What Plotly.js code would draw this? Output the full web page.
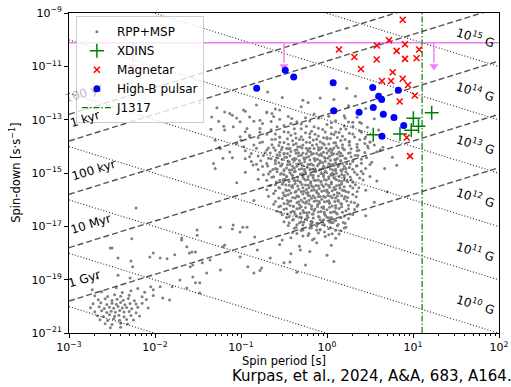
<!DOCTYPE html>
<html>
<head>
<meta charset="utf-8">
<script src="https://cdn.plot.ly/plotly-3.0.1.min.js"></script>
<style>html,body{margin:0;padding:0;background:#fff;}#chart{width:511px;height:387px;}</style>
</head>
<body>
<div id="chart"></div>
<script>
// ---------------- DATA ----------------
// RPP+MSP population as [log10 P(s), log10 Pdot(s/s)]
const rppYoung = [
 [-1.48,-12.38],[-1.19,-12.71],[-1.34,-12.90],[-1.26,-13.06],[-1.13,-12.77],[-0.97,-12.64],[-0.90,-12.90],
 [-0.78,-13.02],[-0.70,-12.71],[-0.64,-12.77],[-0.55,-12.64],[-0.41,-12.96],[-1.01,-13.08],[-1.09,-13.27],
 [-1.19,-13.39],[-0.93,-13.33],[-0.78,-13.33],[-0.90,-13.58],[-1.01,-13.64],[-1.05,-13.89],[-1.24,-14.08],
 [-1.13,-14.21],[-0.97,-14.02],[-1.30,-13.77],[-1.21,-14.45],[-1.32,-14.64],[-0.90,-14.39],[-0.86,-14.70],
 [-0.69,-11.96],[-0.28,-12.27],[-0.52,-12.17],[0.08,-12.24],[0.33,-12.12],[-0.08,-12.19],[0.23,-11.82],
 [-0.82,-12.45],[-0.22,-12.36],[0.25,-12.48]
];
const rppCore = [
 [-1.28,-12.55],[-0.95,-12.68],[-0.6,-12.6],[-0.3,-12.52],[0.05,-12.66],[0.45,-12.58],
 [-1.1,-12.83],[-0.7,-12.74],[-0.45,-12.88],[-0.15,-12.79],[0.2,-12.85],
 [-1.05,-12.94],[-0.85,-13.06],[-0.55,-12.98],[-0.35,-13.08],[-0.1,-12.95],[0.1,-13.04],[0.3,-13.1],[0.55,-12.97],
 [-1.2,-13.25],[-0.75,-13.14],[-0.5,-13.22],[-0.3,-13.16],[-0.15,-13.27],[0.0,-13.18],[0.2,-13.24],[0.4,-13.13],
 [-1.35,-13.36],[-0.95,-13.45],[-0.65,-13.38],[-0.45,-13.47],[-0.3,-13.34],[-0.18,-13.43],[-0.05,-13.37],[0.1,-13.46],[0.22,-13.35],[0.38,-13.42],[0.6,-13.39],
 [-0.9,-13.63],[-0.7,-13.55],[-0.55,-13.66],[-0.42,-13.58],[-0.3,-13.64],[-0.2,-13.53],[-0.1,-13.61],[0.0,-13.67],[0.08,-13.56],[0.18,-13.62],[0.3,-13.54],[0.45,-13.65],
 [-1.0,-13.77],[-0.75,-13.84],[-0.6,-13.73],[-0.5,-13.86],[-0.4,-13.79],[-0.32,-13.74],[-0.24,-13.85],[-0.16,-13.76],[-0.08,-13.83],[0.0,-13.72],[0.08,-13.87],[0.16,-13.78],[0.26,-13.81],[0.38,-13.75],[0.5,-13.84],
 [-1.25,-14.03],[-0.85,-13.95],[-0.68,-14.06],[-0.56,-13.97],[-0.47,-14.08],[-0.39,-13.94],[-0.31,-14.02],[-0.24,-14.07],[-0.17,-13.96],[-0.1,-14.04],[-0.03,-13.93],[0.04,-14.09],[0.11,-13.98],[0.18,-14.05],[0.26,-13.96],[0.35,-14.03],[0.47,-13.99],
 [-0.95,-14.17],[-0.72,-14.24],[-0.6,-14.15],[-0.5,-14.26],[-0.42,-14.19],[-0.35,-14.13],[-0.28,-14.25],[-0.22,-14.18],[-0.16,-14.27],[-0.1,-14.14],[-0.04,-14.22],[0.02,-14.16],[0.08,-14.28],[0.14,-14.21],[0.2,-14.13],[0.27,-14.24],[0.35,-14.17],[0.44,-14.23],[0.58,-14.2],
 [-1.1,-14.43],[-0.8,-14.36],[-0.65,-14.47],[-0.55,-14.34],[-0.47,-14.41],[-0.4,-14.48],[-0.33,-14.35],[-0.27,-14.44],[-0.21,-14.38],[-0.15,-14.46],[-0.09,-14.33],[-0.03,-14.42],[0.03,-14.37],[0.09,-14.49],[0.15,-14.36],[0.21,-14.45],[0.28,-14.39],[0.36,-14.34],[0.46,-14.43],
 [-0.88,-14.57],[-0.7,-14.64],[-0.6,-14.55],[-0.52,-14.66],[-0.45,-14.59],[-0.38,-14.53],[-0.32,-14.65],[-0.26,-14.58],[-0.2,-14.67],[-0.14,-14.54],[-0.08,-14.62],[-0.02,-14.56],[0.04,-14.68],[0.1,-14.61],[0.16,-14.53],[0.23,-14.64],[0.3,-14.57],[0.4,-14.63],[0.52,-14.6],
 [-1.3,-14.83],[-0.75,-14.76],[-0.63,-14.87],[-0.54,-14.74],[-0.47,-14.81],[-0.41,-14.88],[-0.35,-14.75],[-0.29,-14.84],[-0.23,-14.78],[-0.17,-14.86],[-0.11,-14.73],[-0.05,-14.82],[0.01,-14.77],[0.07,-14.89],[0.13,-14.76],[0.19,-14.85],[0.26,-14.79],[0.34,-14.74],[0.45,-14.83],
 [-0.95,-14.97],[-0.68,-15.04],[-0.58,-14.95],[-0.5,-15.06],[-0.43,-14.99],[-0.37,-14.93],[-0.31,-15.05],[-0.25,-14.98],[-0.19,-15.07],[-0.13,-14.94],[-0.07,-15.02],[-0.01,-14.96],[0.05,-15.08],[0.11,-15.01],[0.17,-14.93],[0.24,-15.04],[0.32,-14.97],[0.42,-15.03],
 [-0.8,-15.23],[-0.64,-15.16],[-0.55,-15.27],[-0.47,-15.14],[-0.4,-15.21],[-0.34,-15.28],[-0.28,-15.15],[-0.22,-15.24],[-0.16,-15.18],[-0.1,-15.26],[-0.04,-15.13],[0.02,-15.22],[0.08,-15.17],[0.14,-15.29],[0.2,-15.16],[0.28,-15.25],[0.38,-15.19],
 [-1.05,-15.37],[-0.6,-15.44],[-0.51,-15.35],[-0.44,-15.46],[-0.37,-15.39],[-0.31,-15.33],[-0.25,-15.45],[-0.19,-15.38],[-0.13,-15.47],[-0.07,-15.34],[-0.01,-15.42],[0.05,-15.36],[0.11,-15.48],[0.17,-15.41],[0.24,-15.33],[0.33,-15.44],
 [-0.7,-15.63],[-0.55,-15.56],[-0.47,-15.67],[-0.4,-15.54],[-0.33,-15.61],[-0.27,-15.68],[-0.21,-15.55],[-0.15,-15.64],[-0.09,-15.58],[-0.03,-15.66],[0.03,-15.53],[0.09,-15.62],[0.15,-15.57],[0.22,-15.69],[0.3,-15.56],[0.45,-15.65],
 [-0.62,-15.77],[-0.5,-15.84],[-0.42,-15.75],[-0.35,-15.86],[-0.28,-15.79],[-0.22,-15.73],[-0.16,-15.85],[-0.1,-15.78],[-0.04,-15.87],[0.02,-15.74],[0.08,-15.82],[0.14,-15.76],[0.21,-15.88],[0.3,-15.81],
 [-0.85,-16.03],[-0.52,-15.96],[-0.44,-16.07],[-0.37,-15.94],[-0.3,-16.01],[-0.24,-16.08],[-0.18,-15.95],[-0.12,-16.04],[-0.06,-15.98],[0.0,-16.06],[0.06,-15.93],[0.13,-16.02],[0.2,-15.97],[0.28,-16.09],
 [-0.62,-16.17],[-0.54,-16.24],[-0.46,-16.15],[-0.39,-16.26],[-0.32,-16.19],[-0.25,-16.13],[-0.18,-16.25],[-0.11,-16.18],[-0.04,-16.27],[0.03,-16.14],[0.1,-16.22],[0.17,-16.16],[0.25,-16.21],[0.36,-16.19],
 [-0.58,-16.43],[-0.5,-16.36],[-0.42,-16.47],[-0.35,-16.34],[-0.28,-16.41],[-0.21,-16.48],[-0.14,-16.35],[-0.07,-16.44],[0.0,-16.38],[0.07,-16.46],[0.14,-16.33],[0.22,-16.42],[0.32,-16.37],
 [-0.52,-16.57],[-0.44,-16.64],[-0.37,-16.55],[-0.3,-16.66],[-0.23,-16.59],[-0.16,-16.53],[-0.09,-16.65],[-0.02,-16.58],[0.05,-16.67],[0.12,-16.54],[0.2,-16.62],[0.3,-16.56],
 [-0.5,-16.83],[-0.4,-16.76],[-0.32,-16.87],[-0.25,-16.74],[-0.18,-16.81],[-0.11,-16.88],[-0.04,-16.75],[0.03,-16.84],[0.1,-16.78],[0.19,-16.86],
 [-0.45,-16.97],[-0.36,-17.04],[-0.28,-16.95],[-0.2,-17.06],[-0.12,-16.99],[-0.04,-16.93],[0.04,-17.05],[0.12,-16.98],[0.22,-17.03],
 [-0.4,-17.23],[-0.3,-17.16],[-0.21,-17.27],[-0.12,-17.14],[-0.03,-17.21],[0.06,-17.28],[0.16,-17.17],
 [-0.42,-17.43],[-0.28,-17.36],[-0.15,-17.47],[-0.02,-17.38],[0.1,-17.45],
 [-0.55,-17.68],[-0.32,-17.75],[-0.12,-17.62],[0.05,-17.71],
 [-0.42,-18.03],[-0.2,-17.94],[0.0,-18.08],
 [-0.5,-18.37],[-0.25,-18.45],[0.08,-18.32],
 [-0.78,-18.66],[-0.35,-18.72]
];
const rppCoreDense = [
 [-0.62,-12.88],[-0.25,-12.93],[0.02,-12.87],[0.35,-12.91],
 [-0.65,-13.07],[-0.42,-13.14],[-0.2,-13.05],[0.05,-13.12],[0.25,-13.09],
 [-0.58,-13.27],[-0.38,-13.34],[-0.24,-13.25],[-0.1,-13.32],[0.05,-13.29],[0.16,-13.35],[0.3,-13.26],
 [-0.78,-13.47],[-0.6,-13.54],[-0.5,-13.45],[-0.37,-13.52],[-0.25,-13.49],[-0.14,-13.55],[-0.02,-13.46],[0.05,-13.53],[0.14,-13.48],[0.26,-13.51],[0.4,-13.47],
 [-0.8,-13.67],[-0.64,-13.74],[-0.55,-13.65],[-0.46,-13.72],[-0.36,-13.69],[-0.28,-13.75],[-0.2,-13.66],[-0.12,-13.73],[-0.04,-13.68],[0.04,-13.71],[0.12,-13.67],[0.21,-13.74],[0.32,-13.65],[0.44,-13.72],
 [-0.78,-13.87],[-0.64,-13.94],[-0.55,-13.85],[-0.45,-13.92],[-0.36,-13.89],[-0.28,-13.95],[-0.2,-13.86],[-0.12,-13.93],[-0.05,-13.88],[0.02,-13.91],[0.1,-13.87],[0.18,-13.94],[0.26,-13.85],[0.35,-13.92],[0.44,-13.89],[0.55,-13.95],
 [-0.82,-14.07],[-0.7,-14.14],[-0.62,-14.05],[-0.53,-14.12],[-0.45,-14.09],[-0.37,-14.15],[-0.29,-14.06],[-0.22,-14.13],[-0.15,-14.08],[-0.08,-14.11],[-0.01,-14.07],[0.06,-14.14],[0.13,-14.05],[0.2,-14.12],[0.28,-14.09],[0.37,-14.15],[0.48,-14.06],[0.62,-14.13],
 [-0.88,-14.27],[-0.74,-14.34],[-0.66,-14.25],[-0.58,-14.32],[-0.5,-14.29],[-0.43,-14.35],[-0.36,-14.26],[-0.3,-14.33],[-0.24,-14.28],[-0.18,-14.31],[-0.12,-14.27],[-0.06,-14.34],[0.0,-14.25],[0.06,-14.32],[0.12,-14.29],[0.18,-14.35],[0.25,-14.26],[0.33,-14.33],
 [-0.95,-14.47],[-0.77,-14.54],[-0.68,-14.45],[-0.6,-14.52],[-0.52,-14.49],[-0.45,-14.55],[-0.38,-14.46],[-0.32,-14.53],[-0.26,-14.48],[-0.2,-14.51],[-0.14,-14.47],[-0.08,-14.54],[-0.02,-14.45],[0.04,-14.52],[0.1,-14.49],[0.16,-14.55],[0.22,-14.46],[0.3,-14.53],[0.4,-14.48],
 [-0.82,-14.67],[-0.69,-14.74],[-0.6,-14.65],[-0.53,-14.72],[-0.46,-14.69],[-0.4,-14.75],[-0.34,-14.66],[-0.28,-14.73],[-0.22,-14.68],[-0.16,-14.71],[-0.1,-14.67],[-0.04,-14.74],[0.02,-14.65],[0.08,-14.72],[0.14,-14.69],[0.2,-14.75],[0.27,-14.66],[0.35,-14.73],[0.5,-14.68],
 [-0.8,-14.87],[-0.66,-14.94],[-0.58,-14.85],[-0.5,-14.92],[-0.44,-14.89],[-0.38,-14.95],[-0.32,-14.86],[-0.26,-14.93],[-0.2,-14.88],[-0.14,-14.91],[-0.08,-14.87],[-0.02,-14.94],[0.04,-14.85],[0.1,-14.92],[0.16,-14.89],[0.22,-14.95],[0.3,-14.86],[0.4,-14.93],
 [-0.74,-15.07],[-0.62,-15.14],[-0.54,-15.05],[-0.47,-15.12],[-0.4,-15.09],[-0.34,-15.15],[-0.28,-15.06],[-0.22,-15.13],[-0.16,-15.08],[-0.1,-15.11],[-0.04,-15.07],[0.02,-15.14],[0.08,-15.05],[0.14,-15.12],[0.2,-15.09],[0.27,-15.15],[0.35,-15.06],[0.5,-15.13],
 [-0.7,-15.27],[-0.59,-15.34],[-0.51,-15.25],[-0.44,-15.32],[-0.37,-15.29],[-0.31,-15.35],[-0.25,-15.26],[-0.19,-15.33],[-0.13,-15.28],[-0.07,-15.31],[-0.01,-15.27],[0.05,-15.34],[0.11,-15.25],[0.17,-15.32],[0.23,-15.29],[0.3,-15.35],[0.42,-15.26],
 [-0.66,-15.47],[-0.56,-15.54],[-0.48,-15.45],[-0.41,-15.52],[-0.34,-15.49],[-0.28,-15.55],[-0.22,-15.46],[-0.16,-15.53],[-0.1,-15.48],[-0.04,-15.51],[0.02,-15.47],[0.08,-15.54],[0.14,-15.45],[0.2,-15.52],[0.27,-15.49],[0.37,-15.55],
 [-0.6,-15.67],[-0.51,-15.74],[-0.44,-15.65],[-0.37,-15.72],[-0.3,-15.69],[-0.24,-15.75],[-0.18,-15.66],[-0.12,-15.73],[-0.06,-15.68],[0.0,-15.71],[0.06,-15.67],[0.12,-15.74],[0.18,-15.65],[0.25,-15.72],[0.35,-15.69],
 [-0.68,-15.87],[-0.56,-15.94],[-0.48,-15.85],[-0.4,-15.92],[-0.33,-15.89],[-0.26,-15.95],[-0.2,-15.86],[-0.14,-15.93],[-0.08,-15.88],[-0.02,-15.91],[0.04,-15.87],[0.1,-15.94],[0.17,-15.85],[0.24,-15.92],[0.34,-15.89],
 [-0.6,-16.07],[-0.5,-16.14],[-0.42,-16.05],[-0.35,-16.12],[-0.28,-16.09],[-0.21,-16.15],[-0.15,-16.06],[-0.09,-16.13],[-0.03,-16.08],[0.03,-16.11],[0.09,-16.07],[0.16,-16.14],[0.23,-16.05],[0.32,-16.12],
 [-0.56,-16.27],[-0.47,-16.34],[-0.39,-16.25],[-0.32,-16.32],[-0.25,-16.29],[-0.18,-16.35],[-0.11,-16.26],[-0.04,-16.33],[0.03,-16.28],[0.1,-16.31],[0.17,-16.27],[0.25,-16.34],[0.35,-16.25],
 [-0.54,-16.47],[-0.46,-16.54],[-0.38,-16.45],[-0.31,-16.52],[-0.24,-16.49],[-0.17,-16.55],[-0.1,-16.46],[-0.03,-16.53],[0.04,-16.48],[0.11,-16.51],[0.18,-16.47],[0.27,-16.54],
 [-0.47,-16.67],[-0.39,-16.74],[-0.31,-16.65],[-0.24,-16.72],[-0.16,-16.69],[-0.08,-16.75],[0.0,-16.66],[0.08,-16.73],[0.16,-16.68],[0.25,-16.71],
 [-0.44,-16.87],[-0.35,-16.94],[-0.27,-16.85],[-0.19,-16.92],[-0.11,-16.89],[-0.03,-16.95],[0.05,-16.86],[0.13,-16.93],[0.21,-16.88],
 [-0.38,-17.07],[-0.28,-17.14],[-0.18,-17.05],[-0.08,-17.12],[0.02,-17.09],[0.1,-17.15],[0.2,-17.06],
 [-0.35,-17.27],[-0.22,-17.34],[-0.1,-17.25],[0.02,-17.32],[0.14,-17.29]
];
const rppCoreCenter = [
 [-0.52,-14.03],[-0.43,-14.08],[-0.34,-14.02],[-0.2,-14.07],[-0.06,-14.04],[0.08,-14.06],
 [-0.55,-14.22],[-0.46,-14.27],[-0.33,-14.24],[-0.19,-14.21],[-0.07,-14.28],[0.05,-14.23],[0.16,-14.26],
 [-0.58,-14.43],[-0.49,-14.41],[-0.36,-14.47],[-0.24,-14.42],[-0.11,-14.48],[0.01,-14.44],[0.12,-14.46],
 [-0.56,-14.62],[-0.43,-14.68],[-0.3,-14.63],[-0.18,-14.66],[-0.05,-14.61],[0.07,-14.67],[0.18,-14.64],
 [-0.6,-14.83],[-0.5,-14.88],[-0.38,-14.82],[-0.26,-14.87],[-0.14,-14.84],[-0.02,-14.81],[0.1,-14.86],[0.22,-14.83],
 [-0.53,-15.02],[-0.41,-15.07],[-0.29,-15.03],[-0.17,-15.08],[-0.05,-15.04],[0.06,-15.01],[0.17,-15.06],
 [-0.49,-15.23],[-0.38,-15.28],[-0.27,-15.22],[-0.15,-15.27],[-0.03,-15.24],[0.09,-15.21],[0.2,-15.26],
 [-0.52,-15.42],[-0.4,-15.47],[-0.29,-15.43],[-0.18,-15.48],[-0.06,-15.44],[0.05,-15.41],[0.15,-15.46],
 [-0.48,-15.63],[-0.36,-15.68],[-0.24,-15.62],[-0.12,-15.67],[0.0,-15.64],[0.1,-15.61],[0.2,-15.66],
 [-0.45,-15.82],[-0.34,-15.87],[-0.22,-15.83],[-0.1,-15.88],[0.01,-15.84],[0.12,-15.86],
 [-0.46,-16.03],[-0.33,-16.08],[-0.21,-16.02],[-0.09,-16.07],[0.02,-16.04],[0.13,-16.06],
 [-0.43,-16.22],[-0.3,-16.27],[-0.18,-16.23],[-0.06,-16.28],[0.06,-16.24],
 [-0.4,-16.43],[-0.27,-16.48],[-0.15,-16.42],[-0.03,-16.47],[0.09,-16.44],
 [-0.35,-16.62],[-0.22,-16.67],[-0.1,-16.63],[0.02,-16.68],
 [-0.3,-16.83],[-0.18,-16.88],[-0.06,-16.82],[0.07,-16.86]
];
const rppOuter = [
 [0.67,-14.83],[0.76,-14.41],[0.81,-14.71],[0.65,-14.03],[0.50,-13.84],[0.47,-13.28],[0.38,-13.10],
 [0.21,-12.94],[0.58,-15.3],[0.7,-15.7],[0.55,-16.1],[0.45,-16.6]
];
const rppRecycled = [
 [-2.22,-16.31],[-2.27,-17.47],[-2.50,-17.81],[-2.43,-18.19],[-2.28,-18.30],[-2.06,-18.15],[-2.02,-18.00],
 [-1.94,-18.19],[-1.86,-18.22],[-1.77,-18.07],[-1.69,-17.51],[-1.63,-17.77],[-1.60,-18.00],[-1.53,-17.96],
 [-1.51,-17.14],[-1.51,-17.33],[-1.45,-18.37],[-1.71,-19.01],[-1.59,-18.52],[-1.56,-18.90],[-1.48,-19.12],
 [-1.40,-18.75],[-1.80,-19.27],[-1.94,-19.27],[-2.02,-19.38],[-1.83,-19.76],[-1.91,-19.69],[-1.63,-19.31],
 [-1.48,-19.50],[-1.53,-19.12],[-1.69,-17.44],[-1.57,-17.96],[-1.56,-18.45],[-1.36,-18.26],[-1.24,-17.03],
 [-1.09,-16.95],[-0.93,-17.03],[-1.01,-17.21],[-1.24,-18.64],[-1.01,-18.15],[-0.92,-18.52],[-0.81,-17.89],
 [-1.21,-17.77],[-1.19,-17.70],[-1.10,-17.10],[-0.84,-17.40],[-0.98,-17.03],[-0.76,-18.56],[-0.52,-17.51],
 [-0.66,-18.19],[-0.43,-18.34],[-0.31,-17.89],[-0.17,-17.51],[-0.08,-17.14],[-0.85,-18.75],
 [-2.52,-17.81],[-2.43,-18.83],[-2.26,-18.52],[-2.29,-18.94],[-2.67,-18.94],[-2.73,-19.38]
];
const rppMsp = [
 [-2.45,-19.3],[-2.2,-19.33],[-2.05,-19.27],
 [-2.62,-19.45],[-2.38,-19.48],[-2.28,-19.42],[-2.12,-19.47],
 [-2.7,-19.6],[-2.55,-19.63],[-2.47,-19.57],[-2.4,-19.62],[-2.3,-19.58],[-2.15,-19.64],[-2.02,-19.59],
 [-2.66,-19.75],[-2.58,-19.72],[-2.5,-19.78],[-2.44,-19.73],[-2.37,-19.77],[-2.31,-19.71],[-2.24,-19.79],[-2.1,-19.74],
 [-2.72,-19.9],[-2.63,-19.87],[-2.56,-19.93],[-2.5,-19.88],[-2.45,-19.92],[-2.4,-19.86],[-2.35,-19.94],[-2.29,-19.89],[-2.22,-19.91],[-2.15,-19.88],
 [-2.75,-20.05],[-2.65,-20.02],[-2.59,-20.08],[-2.53,-20.03],[-2.48,-20.07],[-2.43,-20.01],[-2.38,-20.06],[-2.33,-20.04],[-2.27,-20.09],[-2.2,-20.03],[-2.08,-20.06],
 [-2.7,-20.2],[-2.62,-20.17],[-2.56,-20.23],[-2.51,-20.18],[-2.46,-20.22],[-2.41,-20.16],[-2.36,-20.21],[-2.3,-20.19],[-2.22,-20.24],
 [-2.67,-20.35],[-2.6,-20.38],[-2.53,-20.32],[-2.47,-20.37],[-2.42,-20.33],[-2.36,-20.39],[-2.28,-20.34],[-2.18,-20.36],
 [-2.64,-20.5],[-2.55,-20.53],[-2.48,-20.47],[-2.41,-20.52],[-2.33,-20.49],[-2.25,-20.51],
 [-2.58,-20.65],[-2.5,-20.68],[-2.4,-20.63],[-2.32,-20.66],
 [-2.52,-20.8],[-2.4,-20.78]
];

// Magnetars
const magP    = [7.59,1.38,2.08,3.81,5.26,8.07,6.46,11.8,3.78,8.07,11.0,2.48,5.81,4.36,5.55,7.59,8.75,10.5,7.0,8.45,9.23];
const magPdot = [5.6e-10,4.3e-11,2.25e-11,6.0e-11,9.5e-11,6.7e-11,3.8e-11,4.3e-11,1.8e-11,1.9e-11,2.0e-11,8.0e-12,6.0e-12,2.84e-12,2.84e-12,3.4e-12,2.0e-12,8.1e-13,4.8e-13,2.15e-14,4.3e-15];
// High-B pulsars
const hbP    = [0.327,0.41,0.152,1.18,3.40,6.75,3.99,4.32,1.20,2.36,3.45,4.52,6.01,7.80,4.36];
const hbPdot = [7.1e-12,4.0e-12,1.51e-12,2.4e-12,1.6e-12,1.27e-12,7.6e-13,5.7e-13,2.14e-13,1.91e-13,2.86e-13,1.61e-13,1.21e-13,6.1e-14,2.41e-14];
// XDINS
const xdP    = [16.5,10.1,11.6,9.55,7.06,3.45];
const xdPdot = [1.8e-13,1.14e-13,5.7e-14,4.0e-14,2.9e-14,2.7e-14];
// J1317
const j1317P = 12.76;
const j1317PdotLimit = 7.7e-11;
const limitArrowP = [0.00555, 0.316, 17.5];
const limitArrowTip = 1.0e-11;
// Reference lines
const ageYears  = [1e2, 1e3, 1e5, 1e7, 1e9];
const ageLabels = ['100 yr', '1 kyr', '100 kyr', '10 Myr', '1 Gyr'];
const fieldG    = [1e8, 1e9, 1e10, 1e11, 1e12, 1e13, 1e14, 1e15];
const fieldLabels = ['', '', '10<sup>10</sup> G', '10<sup>11</sup> G', '10<sup>12</sup> G', '10<sup>13</sup> G', '10<sup>14</sup> G', '10<sup>15</sup> G'];
const periodRange = [1e-3, 1e2];
// Tick labels
const xTickVals = [1e-3, 1e-2, 1e-1, 1e0, 1e1, 1e2];
const xTickText = ['10<sup>−3</sup>', '10<sup>−2</sup>', '10<sup>−1</sup>', '10<sup>0</sup>', '10<sup>1</sup>', '10<sup>2</sup>'];
const yTickVals = [1e-21, 1e-19, 1e-17, 1e-15, 1e-13, 1e-11, 1e-9];
const yTickText = ['10<sup>−21</sup>', '10<sup>−19</sup>', '10<sup>−17</sup>', '10<sup>−15</sup>', '10<sup>−13</sup>', '10<sup>−11</sup>', '10<sup>−9</sup>'];

// ---------------- BUILD ----------------
const YR = 3.156e7;
const agePdot = (P, yr) => P / (2 * yr * YR);
const fieldPdot = (P, B) => Math.pow(B / 3.2e19, 2) / P;

const rppAll = rppYoung.concat(rppCore, rppCoreDense, rppCoreCenter, rppOuter, rppRecycled, rppMsp);
const rppP = rppAll.map(d => Math.pow(10, d[0]));
const rppPdot = rppAll.map(d => Math.pow(10, d[1]));

const FONT = 'DejaVu Sans, Liberation Sans, sans-serif';
const PINK = '#f07cf0';
const traces = [];

traces.push({
  x: rppP, y: rppPdot, mode: 'markers', type: 'scatter', name: 'RPP+MSP', legendrank: 1,
  marker: {color: 'rgb(128,128,128)', size: 3, line: {width: 0}}
});
fieldG.forEach(B => traces.push({
  x: periodRange, y: periodRange.map(P => fieldPdot(P, B)), mode: 'lines', showlegend: false, hoverinfo: 'skip',
  line: {color: 'rgba(0,0,0,0.85)', width: 1.1, dash: '1px,2px'}
}));
ageYears.forEach(a => traces.push({
  x: periodRange, y: periodRange.map(P => agePdot(P, a)), mode: 'lines', showlegend: false, hoverinfo: 'skip',
  line: {color: 'rgba(40,40,40,0.8)', width: 1.4, dash: '6px,3px'}
}));
traces.push({
  x: periodRange, y: periodRange.map(() => j1317PdotLimit), mode: 'lines', showlegend: false, hoverinfo: 'skip',
  line: {color: PINK, width: 1.6}
});
limitArrowP.forEach(P => traces.push({
  x: [P, P], y: [j1317PdotLimit, limitArrowTip * 1.35], mode: 'lines', showlegend: false, hoverinfo: 'skip',
  line: {color: PINK, width: 1.4}
}));
traces.push({
  x: limitArrowP, y: limitArrowP.map(() => limitArrowTip), mode: 'markers', showlegend: false, hoverinfo: 'skip',
  marker: {symbol: 'triangle-down', size: 8, color: PINK, line: {width: 0}}
});
traces.push({
  x: [j1317P, j1317P], y: [1e-21, 1e-9], mode: 'lines', name: 'J1317', legendrank: 5,
  line: {color: 'green', width: 1.2, dash: '6px,2px,1.5px,2px'}
});
traces.push({
  x: xdP, y: xdPdot, mode: 'markers', name: 'XDINS', legendrank: 2,
  marker: {symbol: 'cross-thin', size: 10, color: 'green', line: {color: 'green', width: 1.5}}
});
traces.push({
  x: magP, y: magPdot, mode: 'markers', name: 'Magnetar', legendrank: 3,
  marker: {symbol: 'x-thin', size: 6, color: 'red', line: {color: 'red', width: 1.5}}
});
traces.push({
  x: hbP, y: hbPdot, mode: 'markers', name: 'High-B pulsar', legendrank: 4,
  marker: {symbol: 'circle', size: 7, color: 'blue', line: {width: 0}}
});

// labels on reference lines
const ageLabelP = [1.49e-3, 1.53e-3, 1.95e-3, 1.80e-3, 1.5e-3];
const fieldLabelP = 54;
const annotations = [];
ageYears.forEach((a, i) => annotations.push({
  x: Math.log10(ageLabelP[i]), y: Math.log10(agePdot(ageLabelP[i], a)), xref: 'x', yref: 'y',
  text: ageLabels[i], showarrow: false, textangle: -17.2, yshift: 17,
  font: {family: FONT, size: 12, color: i === 0 ? 'rgba(0,0,0,0.3)' : 'black'}
}));
fieldG.forEach((B, i) => {
  if (!fieldLabels[i]) return;
  annotations.push({
    x: Math.log10(fieldLabelP), y: Math.log10(fieldPdot(fieldLabelP, B)), xref: 'x', yref: 'y',
    text: fieldLabels[i], showarrow: false, textangle: 17.2, yshift: 22,
    font: {family: FONT, size: 12, color: 'black'}
  });
});
// y-axis title (placed as annotation for exact position)
annotations.push({
  xref: 'paper', yref: 'paper', x: -0.126, y: 0.5, xanchor: 'center', yanchor: 'middle',
  text: 'Spin-down [s·s<sup>−1</sup>]', textangle: -90, showarrow: false,
  font: {family: FONT, size: 11.5, color: 'black'}
});
annotations.push({
  xref: 'paper', yref: 'paper', x: 1.036, y: -0.135, xanchor: 'right', yanchor: 'middle',
  text: 'Kurpas, et al., 2024, A&amp;A, 683, A164.', showarrow: false,
  font: {family: FONT, size: 15, color: 'black'}
});

const layout = {
  width: 511, height: 387,
  margin: {l: 69, r: 12, t: 13, b: 54, pad: 0},
  paper_bgcolor: 'white', plot_bgcolor: 'white',
  font: {family: FONT, size: 12, color: 'black'},
  showlegend: true,
  legend: {
    x: 0.016, y: 0.99, xanchor: 'left', yanchor: 'top',
    bgcolor: 'rgba(255,255,255,0.8)', bordercolor: '#cccccc', borderwidth: 1,
    font: {family: FONT, size: 12, color: 'black'}
  },
  xaxis: {
    type: 'log', range: [-3, 2], tickvals: xTickVals, ticktext: xTickText,
    showline: true, mirror: true, linecolor: 'black', linewidth: 1,
    ticks: 'outside', ticklen: 4, tickcolor: 'black', showgrid: false, zeroline: false,
    minor: {ticks: 'outside', ticklen: 2, tickcolor: 'black', dtick: 'D1', showgrid: false},
    tickfont: {family: FONT, size: 11, color: 'black'},
    title: {text: 'Spin period [s]', font: {family: FONT, size: 11.5, color: 'black'}, standoff: 0},
    automargin: false
  },
  yaxis: {
    type: 'log', range: [-21, -9], tickvals: yTickVals, ticktext: yTickText,
    showline: true, mirror: true, linecolor: 'black', linewidth: 1,
    ticks: 'outside', ticklen: 4, tickcolor: 'black', showgrid: false, zeroline: false,
    tickfont: {family: FONT, size: 11, color: 'black'},
    automargin: false
  },
  annotations: annotations
};

Plotly.newPlot('chart', traces, layout, {displayModeBar: false, staticPlot: true});
</script>
</body>
</html>
